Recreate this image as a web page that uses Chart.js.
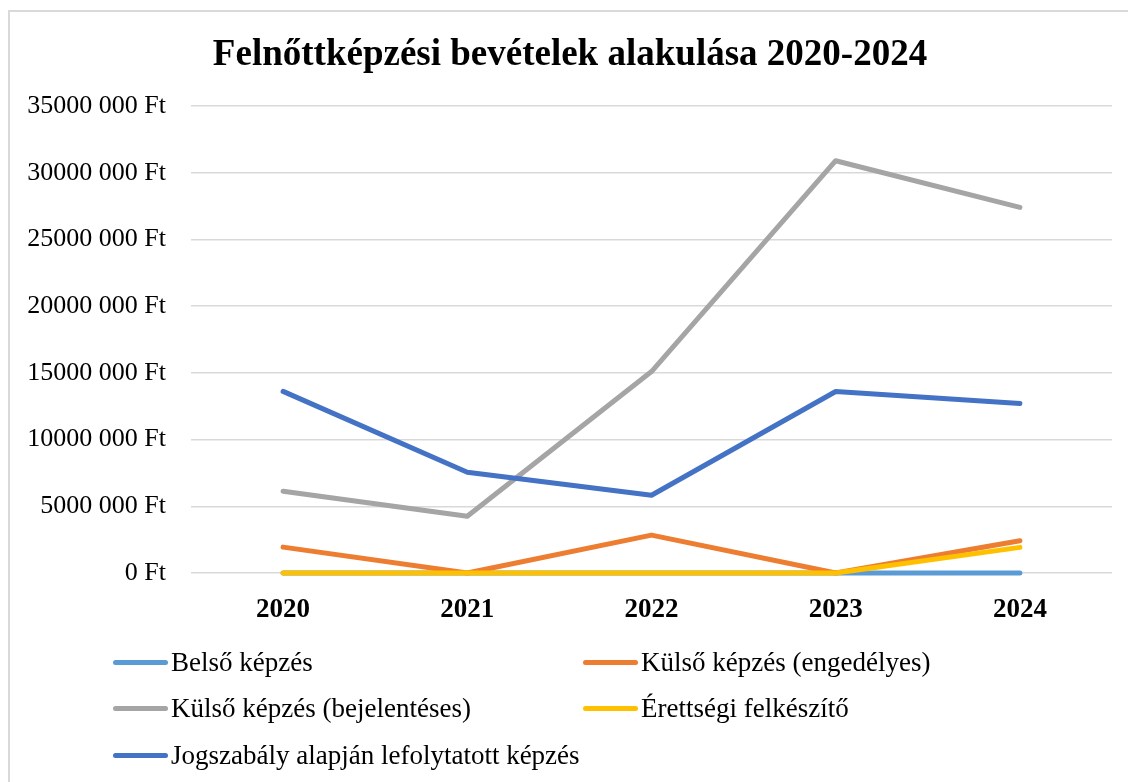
<!DOCTYPE html>
<html lang="hu">
<head>
<meta charset="utf-8">
<title>Felnőttképzési bevételek alakulása 2020-2024</title>
<script src="https://cdn.jsdelivr.net/npm/chart.js@4.4.1/dist/chart.umd.min.js"></script>
<style>
    html, body { margin: 0; padding: 0; background: #fff; }
    body { width: 1128px; height: 782px; position: relative; overflow: hidden; font-family: 'Liberation Serif', 'Times New Roman', serif; }
    #frame { position: absolute; left: 8px; top: 10px; width: 1140px; height: 800px; border: 2px solid #d9d9d9; box-sizing: border-box; }
    #wrap { position: absolute; left: 0; top: 0; width: 1128px; height: 662px; }
    #legend { position: absolute; left: 113px; top: 639px; width: 980px; display: grid; grid-template-columns: 470px 470px; }
    .item { display: flex; align-items: center; height: 46.5px; font-size: 27px; color: #000; white-space: nowrap; }
    .swatch { width: 55px; height: 5px; border-radius: 3px; margin-right: 3px; flex: none; }
</style>
</head>
<body>
<div id="frame"></div>
<div id="wrap"><canvas id="revenueChart"></canvas></div>
<div id="legend"></div>

<script>
// Data
const years = ['2020', '2021', '2022', '2023', '2024'];
const seriesNames = [
    'Belső képzés',
    'Külső képzés (engedélyes)',
    'Külső képzés (bejelentéses)',
    'Érettségi felkészítő',
    'Jogszabály alapján lefolytatott képzés'
];
const belso = [0, 0, 0, 0, 0];
const kulsoEngedelyes = [1940000, 0, 2840000, 0, 2420000];
const kulsoBejelenteses = [6130000, 4260000, 15100000, 30900000, 27400000];
const erettsegi = [0, 0, 0, 0, 1920000];
const jogszabaly = [13610000, 7550000, 5830000, 13600000, 12700000];
const seriesColors = ['#5B9BD5', '#ED7D31', '#A5A5A5', '#FFC000', '#4472C4'];

const allSeries = [belso, kulsoEngedelyes, kulsoBejelenteses, erettsegi, jogszabaly];

// Format like "35000 000 Ft"
function formatFt(value) {
    if (value === 0) return '0 Ft';
    return (value / 1000) + ' 000 Ft';
}

const datasets = allSeries.map((values, i) => ({
    label: seriesNames[i],
    data: values,
    borderColor: seriesColors[i],
    backgroundColor: seriesColors[i],
    borderWidth: 5,
    borderCapStyle: 'round',
    borderJoinStyle: 'round',
    pointRadius: 0,
    tension: 0,
    clip: false,
    // later series drawn on top, like the original
    order: allSeries.length - 1 - i
}));

const ctx = document.getElementById('revenueChart').getContext('2d');
window.revenueChart = new Chart(ctx, {
    type: 'line',
    data: {
        labels: years,
        datasets: datasets
    },
    options: {
        responsive: true,
        maintainAspectRatio: false,
        animation: false,
        layout: {
            padding: { left: 28, right: 16, top: 0, bottom: 14.6 }
        },
        plugins: {
            legend: { display: false },
            tooltip: { enabled: false },
            title: {
                display: true,
                text: 'Felnőttképzési bevételek alakulása 2020-2024',
                color: '#000',
                font: { family: "'Liberation Serif', serif", size: 37, weight: 'bold' },
                padding: { top: 33, bottom: 28.6 }
            }
        },
        scales: {
            x: {
                offset: true,
                grid: { display: false, drawTicks: false },
                border: { display: false },
                ticks: {
                    color: '#000',
                    padding: 21,
                    font: { family: "'Liberation Serif', serif", size: 27, weight: 'bold' }
                }
            },
            y: {
                min: 0,
                max: 35000000,
                afterFit: (scale) => { scale.width = 163; },
                grid: { color: '#d9d9d9', lineWidth: 1.5, drawTicks: false },
                border: { display: false },
                ticks: {
                    stepSize: 5000000,
                    color: '#000',
                    padding: 25,
                    font: { family: "'Liberation Serif', serif", size: 26 },
                    callback: (value) => formatFt(value)
                }
            }
        }
    }
});

// Two-column legend like the original
const legendEl = document.getElementById('legend');
seriesNames.forEach((name, i) => {
    const item = document.createElement('div');
    item.className = 'item';
    const swatch = document.createElement('span');
    swatch.className = 'swatch';
    swatch.style.background = seriesColors[i];
    const text = document.createElement('span');
    text.textContent = name;
    item.appendChild(swatch);
    item.appendChild(text);
    legendEl.appendChild(item);
});
</script>
</body>
</html>
